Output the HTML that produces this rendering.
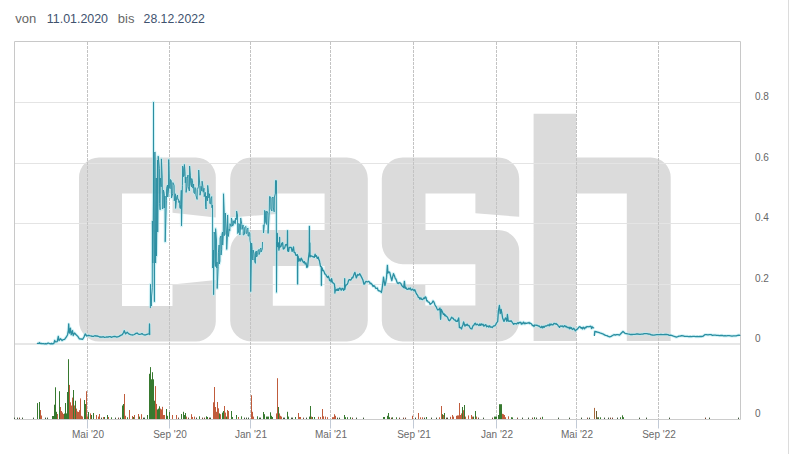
<!DOCTYPE html>
<html><head><meta charset="utf-8"><title>Chart</title>
<style>
html,body{margin:0;padding:0;background:#fff;}
body{width:789px;height:454px;overflow:hidden;font-family:"Liberation Sans",sans-serif;}
svg{display:block;font-family:"Liberation Sans",sans-serif;}
</style></head><body>
<svg width="789" height="454" viewBox="0 0 789 454">
<rect width="789" height="454" fill="#ffffff"/>
<path d="M99.0,157.5 H195.8 A20,20 0 0 1 215.8,177.5 V217.4 L172.5,212.8 V193.6 H122 V306 H172.5 V284.6 L215.8,280 V321.4 A20,20 0 0 1 195.8,341.4 H99.0 A20,20 0 0 1 79.0,321.4 V177.5 A20,20 0 0 1 99.0,157.5 Z M251.2,157.5 H346.8 A21,21 0 0 1 367.8,178.5 V320.4 A21,21 0 0 1 346.8,341.4 H251.2 A21,21 0 0 1 230.2,320.4 V251 A21,21 0 0 1 251.2,230 H324.6 V193.4 H276.8 V214 L230.2,217.5 V178.5 A21,21 0 0 1 251.2,157.5 Z M272.8,266 V305.8 H324.6 V266 Z M402.8,157.5 H498.20000000000005 A21,21 0 0 1 519.2,178.5 V216.8 L475.4,213.2 V193.5 H425.5 V230 H498.20000000000005 A21,21 0 0 1 519.2,251 V320.4 A21,21 0 0 1 498.20000000000005,341.4 H402.8 A21,21 0 0 1 381.8,320.4 V282.6 L425.3,285 V305.6 H475.4 V264.2 H402.8 A21,21 0 0 1 381.8,243.2 V178.5 A21,21 0 0 1 402.8,157.5 Z M533.6,113.8 H576.2 V157.5 H650.7 A20,20 0 0 1 670.7,177.5 V341 H626.8 V193.5 H576.2 V341 H533.6 Z" fill="#dbdbdb" fill-rule="evenodd"/>
<line x1="14.5" x2="740.5" y1="284.5" y2="284.5" stroke="#e4e4e4" stroke-width="1"/>
<line x1="14.5" x2="740.5" y1="223.5" y2="223.5" stroke="#e4e4e4" stroke-width="1"/>
<line x1="14.5" x2="740.5" y1="163.5" y2="163.5" stroke="#e4e4e4" stroke-width="1"/>
<line x1="14.5" x2="740.5" y1="102.5" y2="102.5" stroke="#e4e4e4" stroke-width="1"/>
<rect x="14.5" y="343.15" width="726.0" height="1.7" fill="#e3e3e3"/>
<line x1="87.5" x2="87.5" y1="42" y2="419.0" stroke="#c3c3c3" stroke-width="1" stroke-dasharray="3,1"/>
<line x1="87.5" x2="87.5" y1="420.0" y2="428.5" stroke="#c2cad6" stroke-width="1"/>
<line x1="169.5" x2="169.5" y1="42" y2="419.0" stroke="#c3c3c3" stroke-width="1" stroke-dasharray="3,1"/>
<line x1="169.5" x2="169.5" y1="420.0" y2="428.5" stroke="#c2cad6" stroke-width="1"/>
<line x1="250.5" x2="250.5" y1="42" y2="419.0" stroke="#c3c3c3" stroke-width="1" stroke-dasharray="3,1"/>
<line x1="250.5" x2="250.5" y1="420.0" y2="428.5" stroke="#c2cad6" stroke-width="1"/>
<line x1="330.5" x2="330.5" y1="42" y2="419.0" stroke="#c3c3c3" stroke-width="1" stroke-dasharray="3,1"/>
<line x1="330.5" x2="330.5" y1="420.0" y2="428.5" stroke="#c2cad6" stroke-width="1"/>
<line x1="413.5" x2="413.5" y1="42" y2="419.0" stroke="#c3c3c3" stroke-width="1" stroke-dasharray="3,1"/>
<line x1="413.5" x2="413.5" y1="420.0" y2="428.5" stroke="#c2cad6" stroke-width="1"/>
<line x1="496.5" x2="496.5" y1="42" y2="419.0" stroke="#c3c3c3" stroke-width="1" stroke-dasharray="3,1"/>
<line x1="496.5" x2="496.5" y1="420.0" y2="428.5" stroke="#c2cad6" stroke-width="1"/>
<line x1="576.5" x2="576.5" y1="42" y2="419.0" stroke="#c3c3c3" stroke-width="1" stroke-dasharray="3,1"/>
<line x1="576.5" x2="576.5" y1="420.0" y2="428.5" stroke="#c2cad6" stroke-width="1"/>
<line x1="658.5" x2="658.5" y1="42" y2="419.0" stroke="#c3c3c3" stroke-width="1" stroke-dasharray="3,1"/>
<line x1="658.5" x2="658.5" y1="420.0" y2="428.5" stroke="#c2cad6" stroke-width="1"/>
<path d="M14.5,419.5 V41.5 H740.5 V419.5" fill="none" stroke="#c8c8c8" stroke-width="1"/>
<line x1="14.5" x2="740.5" y1="419.5" y2="419.5" stroke="#cccccc" stroke-width="1"/>
<line x1="788.5" x2="788.5" y1="0" y2="454" stroke="#dcdcdc" stroke-width="1"/>
<rect x="37" y="403.1" width="1" height="15.9" fill="#37792f"/>
<rect x="39" y="402" width="1" height="17.0" fill="#37792f"/>
<rect x="40" y="410" width="1" height="9.0" fill="#c05c3c"/>
<rect x="41" y="415.5" width="1" height="3.5" fill="#c05c3c"/>
<rect x="52" y="416" width="1" height="3.0" fill="#37792f"/>
<rect x="53" y="416" width="1" height="3.0" fill="#37792f"/>
<rect x="54" y="404.7" width="1" height="14.3" fill="#37792f"/>
<rect x="55" y="387.3" width="1" height="31.7" fill="#37792f"/>
<rect x="56" y="411.8" width="1" height="7.2" fill="#37792f"/>
<rect x="57" y="414" width="1" height="5.0" fill="#c05c3c"/>
<rect x="59" y="391.2" width="1" height="27.8" fill="#37792f"/>
<rect x="60" y="407" width="1" height="12.0" fill="#c05c3c"/>
<rect x="61" y="411" width="1" height="8.0" fill="#c05c3c"/>
<rect x="62" y="412.5" width="1" height="6.5" fill="#c05c3c"/>
<rect x="63" y="414" width="1" height="5.0" fill="#c05c3c"/>
<rect x="64" y="413.5" width="1" height="5.5" fill="#37792f"/>
<rect x="65" y="403" width="1" height="16.0" fill="#37792f"/>
<rect x="66" y="413.4" width="1" height="5.6" fill="#37792f"/>
<rect x="67" y="392" width="1" height="27.0" fill="#37792f"/>
<rect x="68" y="359.2" width="1" height="59.8" fill="#37792f"/>
<rect x="69" y="384.9" width="1" height="34.1" fill="#c05c3c"/>
<rect x="70" y="402.3" width="1" height="16.7" fill="#c05c3c"/>
<rect x="71" y="405.5" width="1" height="13.5" fill="#c05c3c"/>
<rect x="72" y="397.6" width="1" height="21.4" fill="#c05c3c"/>
<rect x="73" y="390" width="1" height="29.0" fill="#37792f"/>
<rect x="74" y="405.5" width="1" height="13.5" fill="#c05c3c"/>
<rect x="75" y="400.7" width="1" height="18.3" fill="#37792f"/>
<rect x="76" y="408.6" width="1" height="10.4" fill="#c05c3c"/>
<rect x="77" y="411.5" width="1" height="7.5" fill="#c05c3c"/>
<rect x="78" y="412" width="1" height="7.0" fill="#c05c3c"/>
<rect x="79" y="410.2" width="1" height="8.8" fill="#c05c3c"/>
<rect x="80" y="398.4" width="1" height="20.6" fill="#c05c3c"/>
<rect x="81" y="415.8" width="1" height="3.2" fill="#c05c3c"/>
<rect x="82" y="416.5" width="1" height="2.5" fill="#c05c3c"/>
<rect x="84" y="400" width="1" height="19.0" fill="#37792f"/>
<rect x="85" y="404" width="1" height="15.0" fill="#37792f"/>
<rect x="86" y="391.2" width="1" height="27.8" fill="#c05c3c"/>
<rect x="87" y="416.5" width="1" height="2.5" fill="#c05c3c"/>
<rect x="88" y="412" width="1" height="7.0" fill="#37792f"/>
<rect x="90" y="413.4" width="1" height="5.6" fill="#c05c3c"/>
<rect x="91" y="415" width="1" height="4.0" fill="#37792f"/>
<rect x="93" y="413" width="1" height="6.0" fill="#37792f"/>
<rect x="96" y="415" width="1" height="4.0" fill="#c05c3c"/>
<rect x="98" y="416.6" width="1" height="2.4" fill="#c05c3c"/>
<rect x="99" y="414" width="1" height="5.0" fill="#c05c3c"/>
<rect x="103" y="417" width="1" height="2.0" fill="#c05c3c"/>
<rect x="104" y="417" width="1" height="2.0" fill="#37792f"/>
<rect x="107" y="415" width="1" height="4.0" fill="#37792f"/>
<rect x="108" y="417" width="1" height="2.0" fill="#c05c3c"/>
<rect x="111" y="417.3" width="1" height="1.7" fill="#37792f"/>
<rect x="122" y="405.5" width="1" height="13.5" fill="#37792f"/>
<rect x="123" y="404" width="1" height="15.0" fill="#37792f"/>
<rect x="124" y="394" width="1" height="25.0" fill="#c05c3c"/>
<rect x="125" y="415.8" width="1" height="3.2" fill="#c05c3c"/>
<rect x="127" y="417.3" width="1" height="1.7" fill="#37792f"/>
<rect x="129" y="410" width="1" height="9.0" fill="#c05c3c"/>
<rect x="132" y="416" width="1" height="3.0" fill="#c05c3c"/>
<rect x="133" y="417" width="1" height="2.0" fill="#37792f"/>
<rect x="134" y="415" width="1" height="4.0" fill="#c05c3c"/>
<rect x="138" y="414" width="1" height="5.0" fill="#c05c3c"/>
<rect x="139" y="416.6" width="1" height="2.4" fill="#37792f"/>
<rect x="141" y="414.2" width="1" height="4.8" fill="#c05c3c"/>
<rect x="147" y="415" width="1" height="4.0" fill="#37792f"/>
<rect x="149" y="373.8" width="1" height="45.2" fill="#37792f"/>
<rect x="150" y="367.1" width="1" height="51.9" fill="#37792f"/>
<rect x="151" y="379.3" width="1" height="39.7" fill="#37792f"/>
<rect x="152" y="372.2" width="1" height="46.8" fill="#37792f"/>
<rect x="153" y="379.3" width="1" height="39.7" fill="#37792f"/>
<rect x="154" y="400.7" width="1" height="18.3" fill="#37792f"/>
<rect x="155" y="386.1" width="1" height="32.9" fill="#c05c3c"/>
<rect x="156" y="403.9" width="1" height="15.1" fill="#c05c3c"/>
<rect x="157" y="409.4" width="1" height="9.6" fill="#37792f"/>
<rect x="158" y="408.6" width="1" height="10.4" fill="#37792f"/>
<rect x="159" y="406.3" width="1" height="12.7" fill="#37792f"/>
<rect x="160" y="408.6" width="1" height="10.4" fill="#c05c3c"/>
<rect x="161" y="409.4" width="1" height="9.6" fill="#c05c3c"/>
<rect x="162" y="406.8" width="1" height="12.2" fill="#c05c3c"/>
<rect x="163" y="415" width="1" height="4.0" fill="#c05c3c"/>
<rect x="164" y="415" width="1" height="4.0" fill="#c05c3c"/>
<rect x="166" y="409" width="1" height="10.0" fill="#37792f"/>
<rect x="167" y="415.8" width="1" height="3.2" fill="#37792f"/>
<rect x="169" y="412" width="1" height="7.0" fill="#37792f"/>
<rect x="172" y="415" width="1" height="4.0" fill="#c05c3c"/>
<rect x="176" y="415" width="1" height="4.0" fill="#c05c3c"/>
<rect x="181" y="414" width="1" height="5.0" fill="#37792f"/>
<rect x="183" y="411.8" width="1" height="7.2" fill="#37792f"/>
<rect x="184" y="415" width="1" height="4.0" fill="#37792f"/>
<rect x="185" y="413" width="1" height="6.0" fill="#37792f"/>
<rect x="186" y="416.6" width="1" height="2.4" fill="#c05c3c"/>
<rect x="191" y="414.2" width="1" height="4.8" fill="#c05c3c"/>
<rect x="192" y="417" width="1" height="2.0" fill="#c05c3c"/>
<rect x="194" y="416.6" width="1" height="2.4" fill="#c05c3c"/>
<rect x="199" y="416.3" width="1" height="2.7" fill="#37792f"/>
<rect x="206" y="416.3" width="1" height="2.7" fill="#37792f"/>
<rect x="207" y="417" width="1" height="2.0" fill="#37792f"/>
<rect x="213" y="402.3" width="1" height="16.7" fill="#c05c3c"/>
<rect x="214" y="387" width="1" height="32.0" fill="#c05c3c"/>
<rect x="215" y="407" width="1" height="12.0" fill="#c05c3c"/>
<rect x="216" y="411.8" width="1" height="7.2" fill="#c05c3c"/>
<rect x="217" y="402" width="1" height="17.0" fill="#c05c3c"/>
<rect x="218" y="408.3" width="1" height="10.7" fill="#c05c3c"/>
<rect x="219" y="413.4" width="1" height="5.6" fill="#37792f"/>
<rect x="220" y="414.2" width="1" height="4.8" fill="#c05c3c"/>
<rect x="222" y="412.6" width="1" height="6.4" fill="#37792f"/>
<rect x="223" y="411" width="1" height="8.0" fill="#37792f"/>
<rect x="224" y="406" width="1" height="13.0" fill="#c05c3c"/>
<rect x="225" y="412.6" width="1" height="6.4" fill="#c05c3c"/>
<rect x="226" y="416.6" width="1" height="2.4" fill="#37792f"/>
<rect x="227" y="410" width="1" height="9.0" fill="#c05c3c"/>
<rect x="228" y="411" width="1" height="8.0" fill="#c05c3c"/>
<rect x="231" y="411" width="1" height="8.0" fill="#37792f"/>
<rect x="232" y="417" width="1" height="2.0" fill="#37792f"/>
<rect x="236" y="415" width="1" height="4.0" fill="#37792f"/>
<rect x="238" y="417" width="1" height="2.0" fill="#c05c3c"/>
<rect x="241" y="416.3" width="1" height="2.7" fill="#37792f"/>
<rect x="251" y="395.2" width="1" height="23.8" fill="#c05c3c"/>
<rect x="252" y="411.8" width="1" height="7.2" fill="#c05c3c"/>
<rect x="253" y="416.6" width="1" height="2.4" fill="#c05c3c"/>
<rect x="257" y="416.3" width="1" height="2.7" fill="#37792f"/>
<rect x="263" y="412" width="1" height="7.0" fill="#37792f"/>
<rect x="264" y="414.2" width="1" height="4.8" fill="#37792f"/>
<rect x="266" y="416.6" width="1" height="2.4" fill="#37792f"/>
<rect x="267" y="416.6" width="1" height="2.4" fill="#37792f"/>
<rect x="268" y="416.6" width="1" height="2.4" fill="#37792f"/>
<rect x="270" y="412.3" width="1" height="6.7" fill="#37792f"/>
<rect x="271" y="415.8" width="1" height="3.2" fill="#37792f"/>
<rect x="272" y="417" width="1" height="2.0" fill="#37792f"/>
<rect x="276" y="413.4" width="1" height="5.6" fill="#c05c3c"/>
<rect x="277" y="378.2" width="1" height="40.8" fill="#c05c3c"/>
<rect x="278" y="407" width="1" height="12.0" fill="#37792f"/>
<rect x="279" y="413.4" width="1" height="5.6" fill="#c05c3c"/>
<rect x="280" y="415.8" width="1" height="3.2" fill="#c05c3c"/>
<rect x="281" y="416.6" width="1" height="2.4" fill="#c05c3c"/>
<rect x="287" y="411.8" width="1" height="7.2" fill="#37792f"/>
<rect x="288" y="416.6" width="1" height="2.4" fill="#37792f"/>
<rect x="295" y="417" width="1" height="2.0" fill="#37792f"/>
<rect x="298" y="413" width="1" height="6.0" fill="#c05c3c"/>
<rect x="299" y="417" width="1" height="2.0" fill="#c05c3c"/>
<rect x="300" y="417" width="1" height="2.0" fill="#c05c3c"/>
<rect x="309" y="416.6" width="1" height="2.4" fill="#37792f"/>
<rect x="310" y="406" width="1" height="13.0" fill="#37792f"/>
<rect x="311" y="416.6" width="1" height="2.4" fill="#c05c3c"/>
<rect x="312" y="417" width="1" height="2.0" fill="#37792f"/>
<rect x="314" y="417" width="1" height="2.0" fill="#37792f"/>
<rect x="318" y="416.8" width="1" height="2.2" fill="#c05c3c"/>
<rect x="320" y="417" width="1" height="2.0" fill="#c05c3c"/>
<rect x="322" y="409" width="1" height="10.0" fill="#c05c3c"/>
<rect x="323" y="416.3" width="1" height="2.7" fill="#c05c3c"/>
<rect x="325" y="416.6" width="1" height="2.4" fill="#c05c3c"/>
<rect x="327" y="417.2" width="1" height="1.8" fill="#c05c3c"/>
<rect x="332" y="417.2" width="1" height="1.8" fill="#c05c3c"/>
<rect x="333" y="417.2" width="1" height="1.8" fill="#c05c3c"/>
<rect x="334" y="414.2" width="1" height="4.8" fill="#c05c3c"/>
<rect x="335" y="415.8" width="1" height="3.2" fill="#c05c3c"/>
<rect x="344" y="415" width="1" height="4.0" fill="#37792f"/>
<rect x="345" y="417.2" width="1" height="1.8" fill="#37792f"/>
<rect x="347" y="417.2" width="1" height="1.8" fill="#37792f"/>
<rect x="350" y="417.2" width="1" height="1.8" fill="#37792f"/>
<rect x="383" y="417" width="1" height="2.0" fill="#37792f"/>
<rect x="384" y="417" width="1" height="2.0" fill="#37792f"/>
<rect x="387" y="415.8" width="1" height="3.2" fill="#37792f"/>
<rect x="388" y="413" width="1" height="6.0" fill="#37792f"/>
<rect x="389" y="417.2" width="1" height="1.8" fill="#37792f"/>
<rect x="392" y="417.3" width="1" height="1.7" fill="#37792f"/>
<rect x="396" y="417.3" width="1" height="1.7" fill="#37792f"/>
<rect x="412" y="415.8" width="1" height="3.2" fill="#c05c3c"/>
<rect x="418" y="413" width="1" height="6.0" fill="#c05c3c"/>
<rect x="420" y="417.3" width="1" height="1.7" fill="#c05c3c"/>
<rect x="422" y="417.3" width="1" height="1.7" fill="#c05c3c"/>
<rect x="426" y="417" width="1" height="2.0" fill="#37792f"/>
<rect x="439" y="417.3" width="1" height="1.7" fill="#c05c3c"/>
<rect x="441" y="406" width="1" height="13.0" fill="#c05c3c"/>
<rect x="442" y="414.2" width="1" height="4.8" fill="#37792f"/>
<rect x="443" y="415" width="1" height="4.0" fill="#c05c3c"/>
<rect x="444" y="413" width="1" height="6.0" fill="#37792f"/>
<rect x="450" y="416.8" width="1" height="2.2" fill="#c05c3c"/>
<rect x="452" y="415" width="1" height="4.0" fill="#c05c3c"/>
<rect x="453" y="416.6" width="1" height="2.4" fill="#c05c3c"/>
<rect x="456" y="415.8" width="1" height="3.2" fill="#c05c3c"/>
<rect x="457" y="415.4" width="1" height="3.6" fill="#c05c3c"/>
<rect x="458" y="415.4" width="1" height="3.6" fill="#c05c3c"/>
<rect x="459" y="403" width="1" height="16.0" fill="#c05c3c"/>
<rect x="460" y="415" width="1" height="4.0" fill="#c05c3c"/>
<rect x="461" y="413.4" width="1" height="5.6" fill="#c05c3c"/>
<rect x="462" y="407" width="1" height="12.0" fill="#37792f"/>
<rect x="463" y="410.2" width="1" height="8.8" fill="#c05c3c"/>
<rect x="464" y="405" width="1" height="14.0" fill="#37792f"/>
<rect x="465" y="416.6" width="1" height="2.4" fill="#c05c3c"/>
<rect x="468" y="415.4" width="1" height="3.6" fill="#c05c3c"/>
<rect x="471" y="415" width="1" height="4.0" fill="#c05c3c"/>
<rect x="472" y="416.6" width="1" height="2.4" fill="#c05c3c"/>
<rect x="473" y="416.6" width="1" height="2.4" fill="#37792f"/>
<rect x="475" y="411" width="1" height="8.0" fill="#37792f"/>
<rect x="476" y="416.6" width="1" height="2.4" fill="#c05c3c"/>
<rect x="494" y="416.6" width="1" height="2.4" fill="#37792f"/>
<rect x="495" y="416.6" width="1" height="2.4" fill="#37792f"/>
<rect x="496" y="416.6" width="1" height="2.4" fill="#37792f"/>
<rect x="498" y="415" width="1" height="4.0" fill="#37792f"/>
<rect x="499" y="404.2" width="1" height="14.8" fill="#37792f"/>
<rect x="500" y="404.2" width="1" height="14.8" fill="#37792f"/>
<rect x="501" y="404.2" width="1" height="14.8" fill="#37792f"/>
<rect x="502" y="413.8" width="1" height="5.2" fill="#c05c3c"/>
<rect x="503" y="414.2" width="1" height="4.8" fill="#c05c3c"/>
<rect x="504" y="415" width="1" height="4.0" fill="#c05c3c"/>
<rect x="505" y="417.2" width="1" height="1.8" fill="#c05c3c"/>
<rect x="508" y="416.3" width="1" height="2.7" fill="#c05c3c"/>
<rect x="511" y="417.2" width="1" height="1.8" fill="#37792f"/>
<rect x="512" y="417.4" width="1" height="1.6" fill="#37792f"/>
<rect x="534" y="417.2" width="1" height="1.8" fill="#37792f"/>
<rect x="542" y="416.8" width="1" height="2.2" fill="#37792f"/>
<rect x="594" y="407.9" width="1" height="11.1" fill="#a8673c"/>
<rect x="596" y="411" width="1" height="8.0" fill="#6a5a30"/>
<rect x="597" y="417.3" width="1" height="1.7" fill="#6a6a40"/>
<rect x="598" y="417.3" width="1" height="1.7" fill="#37792f"/>
<rect x="600" y="417.3" width="1" height="1.7" fill="#37792f"/>
<rect x="620" y="417.2" width="1" height="1.8" fill="#37792f"/>
<rect x="622" y="415.3" width="1" height="3.7" fill="#37792f"/>
<rect x="623" y="417.2" width="1" height="1.8" fill="#37792f"/>
<rect x="14" y="417.6" width="1" height="1.4" fill="#40583a"/>
<rect x="17" y="417.6" width="1" height="1.4" fill="#40583a"/>
<rect x="19" y="417.6" width="1" height="1.4" fill="#7a4a38"/>
<rect x="22" y="417.6" width="1" height="1.4" fill="#40583a"/>
<rect x="33" y="417.6" width="1" height="1.4" fill="#40583a"/>
<rect x="45" y="417.6" width="1" height="1.4" fill="#40583a"/>
<rect x="47" y="417.6" width="1" height="1.4" fill="#40583a"/>
<rect x="101" y="417.6" width="1" height="1.4" fill="#40583a"/>
<rect x="115" y="417.6" width="1" height="1.4" fill="#40583a"/>
<rect x="118" y="417.6" width="1" height="1.4" fill="#7a4a38"/>
<rect x="120" y="417.6" width="1" height="1.4" fill="#40583a"/>
<rect x="143" y="417.6" width="1" height="1.4" fill="#40583a"/>
<rect x="144" y="417.6" width="1" height="1.4" fill="#40583a"/>
<rect x="178" y="417.6" width="1" height="1.4" fill="#7a4a38"/>
<rect x="188" y="417.6" width="1" height="1.4" fill="#7a4a38"/>
<rect x="196" y="417.6" width="1" height="1.4" fill="#40583a"/>
<rect x="202" y="417.6" width="1" height="1.4" fill="#7a4a38"/>
<rect x="204" y="417.6" width="1" height="1.4" fill="#7a4a38"/>
<rect x="209" y="417.6" width="1" height="1.4" fill="#7a4a38"/>
<rect x="210" y="417.6" width="1" height="1.4" fill="#40583a"/>
<rect x="244" y="417.6" width="1" height="1.4" fill="#40583a"/>
<rect x="246" y="417.6" width="1" height="1.4" fill="#40583a"/>
<rect x="248" y="417.6" width="1" height="1.4" fill="#40583a"/>
<rect x="259" y="417.6" width="1" height="1.4" fill="#40583a"/>
<rect x="260" y="417.6" width="1" height="1.4" fill="#40583a"/>
<rect x="283" y="417.6" width="1" height="1.4" fill="#40583a"/>
<rect x="284" y="417.6" width="1" height="1.4" fill="#40583a"/>
<rect x="291" y="417.6" width="1" height="1.4" fill="#40583a"/>
<rect x="292" y="417.6" width="1" height="1.4" fill="#40583a"/>
<rect x="303" y="417.6" width="1" height="1.4" fill="#7a4a38"/>
<rect x="306" y="417.6" width="1" height="1.4" fill="#40583a"/>
<rect x="337" y="417.6" width="1" height="1.4" fill="#40583a"/>
<rect x="339" y="417.6" width="1" height="1.4" fill="#40583a"/>
<rect x="352" y="417.6" width="1" height="1.4" fill="#7a4a38"/>
<rect x="356" y="417.6" width="1" height="1.4" fill="#40583a"/>
<rect x="363" y="417.6" width="1" height="1.4" fill="#40583a"/>
<rect x="391" y="417.6" width="1" height="1.4" fill="#7a4a38"/>
<rect x="399" y="417.6" width="1" height="1.4" fill="#7a4a38"/>
<rect x="403" y="417.6" width="1" height="1.4" fill="#7a4a38"/>
<rect x="405" y="417.6" width="1" height="1.4" fill="#7a4a38"/>
<rect x="415" y="417.6" width="1" height="1.4" fill="#40583a"/>
<rect x="424" y="417.6" width="1" height="1.4" fill="#40583a"/>
<rect x="431" y="417.6" width="1" height="1.4" fill="#40583a"/>
<rect x="436" y="417.6" width="1" height="1.4" fill="#40583a"/>
<rect x="446" y="417.6" width="1" height="1.4" fill="#7a4a38"/>
<rect x="447" y="417.6" width="1" height="1.4" fill="#40583a"/>
<rect x="478" y="417.6" width="1" height="1.4" fill="#7a4a38"/>
<rect x="483" y="417.6" width="1" height="1.4" fill="#40583a"/>
<rect x="492" y="417.6" width="1" height="1.4" fill="#7a4a38"/>
<rect x="517" y="417.6" width="1" height="1.4" fill="#7a4a38"/>
<rect x="522" y="417.6" width="1" height="1.4" fill="#40583a"/>
<rect x="528" y="417.6" width="1" height="1.4" fill="#40583a"/>
<rect x="532" y="417.6" width="1" height="1.4" fill="#7a4a38"/>
<rect x="536" y="417.6" width="1" height="1.4" fill="#40583a"/>
<rect x="540" y="417.6" width="1" height="1.4" fill="#7a4a38"/>
<rect x="558" y="417.6" width="1" height="1.4" fill="#40583a"/>
<rect x="569" y="417.6" width="1" height="1.4" fill="#40583a"/>
<rect x="581" y="417.6" width="1" height="1.4" fill="#40583a"/>
<rect x="587" y="417.6" width="1" height="1.4" fill="#7a4a38"/>
<rect x="589" y="417.6" width="1" height="1.4" fill="#40583a"/>
<rect x="604" y="417.6" width="1" height="1.4" fill="#40583a"/>
<rect x="608" y="417.6" width="1" height="1.4" fill="#40583a"/>
<rect x="610" y="417.6" width="1" height="1.4" fill="#7a4a38"/>
<rect x="612" y="417.6" width="1" height="1.4" fill="#7a4a38"/>
<rect x="617" y="417.6" width="1" height="1.4" fill="#40583a"/>
<rect x="639" y="417.6" width="1" height="1.4" fill="#40583a"/>
<rect x="646" y="417.6" width="1" height="1.4" fill="#40583a"/>
<rect x="669" y="417.6" width="1" height="1.4" fill="#40583a"/>
<rect x="705" y="417.6" width="1" height="1.4" fill="#7a4a38"/>
<rect x="709" y="417.6" width="1" height="1.4" fill="#40583a"/>
<rect x="738" y="417.6" width="1" height="1.4" fill="#40583a"/>
<path d="M37.4,343.4 L39.2,343.4 L39.4,342.6 L39.9,343.4 L41.1,343.5 L42.2,343.6 L43.4,343.7 L44.6,343.8 L45.7,343.6 L46.9,343.8 L48.1,343.0 L49.2,343.4 L50.4,343.8 L51.6,343.5 L52.7,343.8 L53.9,343.4 L54.7,340.5 L55.6,341.8 L57.2,341.6 L58.3,336.4 L59.0,340.5 L60.5,338.8 L62.1,340.5 L63.3,339.6 L64.6,339.3 L66.2,337.2 L67.6,334.7 L68.4,330.0 L68.7,324.0 L69.1,331.0 L69.5,333.0 L70.4,328.1 L71.2,334.7 L72.5,330.6 L73.2,335.5 L74.5,333.0 L76.1,334.7 L77.8,336.4 L79.4,338.8 L81.1,339.0 L82.7,339.3 L84.0,337.0 L85.2,333.9 L86.8,336.0 L88.0,335.5 L89.3,335.5 L90.9,336.0 L92.6,336.4 L93.7,336.3 L94.8,335.7 L95.9,336.0 L97.1,336.0 L98.3,336.3 L99.6,337.0 L100.8,336.9 L102.0,337.2 L103.3,336.7 L104.5,337.4 L105.8,337.2 L106.9,336.8 L108.0,337.2 L109.1,336.7 L110.2,336.6 L111.3,337.3 L112.4,336.9 L113.7,336.5 L115.0,336.4 L116.4,337.0 L117.7,336.8 L119.0,336.4 L120.7,335.4 L122.3,334.7 L123.6,332.5 L124.2,330.6 L125.6,333.9 L127.2,332.2 L128.8,333.9 L130.5,334.7 L131.8,334.9 L133.0,335.0 L134.4,334.5 L135.7,333.4 L137.1,333.0 L138.3,334.1 L139.6,334.4 L140.8,334.2 L142.0,333.6 L143.1,334.5 L144.2,334.9 L145.3,335.0 L146.9,334.3 L148.6,333.9 L149.3,333.5 L149.5,324.0 L149.7,334.5 M276.9,242.5 L277.2,245.0 L277.3,233.4 L277.4,245.0 L277.5,246.5 L278.4,242.8 L278.9,250.2 L279.5,246.3 L279.6,246.0 L279.6,237.5 L279.7,246.3 L280.2,247.0 L281.0,246.3 L281.7,243.5 L282.6,242.6 L283.3,249.0 L283.8,248.8 L284.7,247.9 L285.5,244.9 L286.2,244.5 L287.0,245.2 L287.4,246.9 L287.5,230.6 L287.6,246.9 L287.7,251.0 L288.6,251.4 L289.2,247.3 L290.0,247.3 L290.6,247.3 L291.2,247.4 L292.1,251.4 L292.9,249.3 L293.5,246.8 L294.1,252.3 L294.9,252.3 L295.8,255.2 L296.5,255.4 L297.4,254.6 L297.5,256.3 L297.6,283.9 L297.7,256.3 L298.1,256.2 L298.8,261.2 L299.6,258.8 L300.5,261.0 L301.2,258.1 L302.0,259.5 L302.7,261.2 L303.6,262.6 L304.4,261.6 L305.1,264.0 L306.0,262.9 L306.8,267.4 L307.6,266.8 L308.5,257.9 L309.2,252.1 L309.3,254.0 L309.4,226.4 L309.5,254.0 L309.8,254.0 L309.9,243.0 L310.0,254.0 L310.1,256.9 L310.7,255.7 L311.5,256.0 L312.1,256.5 L312.8,256.5 L313.5,256.8 L314.3,257.4 L315.1,254.2 L315.7,256.3 L316.4,255.7 L317.2,258.3 L317.7,258.4 L318.3,257.1 L318.8,259.7 L319.4,260.3 L319.9,263.5 L320.6,266.6 L321.3,266.7 L321.3,268.8 L321.4,285.3 L321.5,268.8 L322.2,268.0 L322.8,270.6 L323.5,270.4 L324.3,272.2 L324.8,274.0 L325.4,274.2 L326.0,274.9 L326.9,276.7 L327.6,277.6 L328.3,276.2 L328.9,277.7 L329.6,280.5 L330.5,280.0 L331.1,282.0 L331.6,278.7 L332.3,281.8 L332.9,282.9 L333.8,283.3 L334.4,284.1 L334.8,287.5 L334.9,293.0 L335.0,287.5 L335.0,290.0 L335.7,290.7 L336.6,289.4 L337.2,290.4 L337.9,288.8 L338.5,290.4 L339.2,288.6 L339.9,288.0 L340.6,289.0 L341.2,290.2 L342.1,288.3 L342.8,288.8 L343.7,290.4 L344.3,288.4 L344.6,287.6 L344.7,278.7 L344.8,287.6 L344.8,289.3 L345.4,286.4 L346.1,285.1 L346.9,284.5 L347.4,284.1 L348.0,282.4 L348.7,280.0 L349.4,279.7 L350.7,280.0 L351.4,279.1 L352.1,277.4 L352.8,277.9 L353.9,274.6 L354.9,272.3 L355.6,275.0 L356.3,277.9 L357.7,274.4 L358.4,275.1 L359.1,274.8 L359.8,273.7 L360.9,275.9 L361.9,277.9 L362.9,280.0 L363.9,284.2 L364.6,283.9 L365.3,282.2 L366.0,281.4 L366.7,281.6 L367.4,281.9 L368.1,281.7 L368.8,281.4 L369.5,282.1 L370.2,283.7 L370.9,283.2 L371.6,284.0 L372.3,284.9 L373.1,286.4 L374.0,285.6 L374.8,286.5 L375.7,288.3 L376.5,288.3 L377.3,288.0 L378.1,290.4 L378.9,290.8 L379.8,291.0 L380.6,291.3 L381.4,292.5 L382.1,288.6 L382.8,283.5 L383.5,277.2 L384.9,285.5 L385.7,282.6 L386.5,277.9 L387.4,265.3 L387.9,273.0 L388.8,271.9 L389.7,272.3 L390.4,275.1 L391.1,278.0 L391.8,280.7 L392.6,277.2 L393.5,273.7 L394.4,275.8 L395.3,278.6 L396.0,279.1 L396.7,281.2 L397.4,283.0 L398.1,283.5 L399.0,282.6 L400.0,282.9 L400.9,283.5 L401.6,285.2 L402.3,286.2 L403.0,286.9 L403.7,287.6 L404.4,281.4 L405.1,288.3 L405.8,287.3 L406.5,288.8 L407.2,289.4 L407.9,289.4 L408.6,288.3 L409.5,289.1 L410.3,288.0 L411.1,290.1 L412.0,289.7 L412.7,289.1 L413.4,290.0 L414.1,290.7 L414.8,289.7 L415.9,292.6 L416.9,294.6 L417.6,295.2 L418.3,297.4 L419.1,297.4 L420.0,299.2 L420.8,297.9 L421.7,299.3 L422.5,299.5 L423.2,298.9 L423.9,297.9 L424.6,298.5 L425.3,296.8 L426.0,297.4 L426.7,300.9 L427.4,300.7 L428.1,302.0 L428.8,302.1 L429.5,302.7 L430.2,304.4 L430.9,303.7 L431.6,303.2 L432.3,302.6 L433.0,300.9 L434.0,302.1 L435.0,305.0 L435.7,306.1 L436.4,307.1 L437.1,309.0 L437.8,310.0 L438.5,309.3 L439.3,309.6 L440.0,308.0 L440.6,319.3 L441.3,309.5 L442.4,311.7 L443.4,314.4 L444.1,313.8 L444.8,315.7 L445.5,314.9 L446.2,316.4 L446.9,316.5 L447.8,317.9 L448.7,320.2 L449.6,320.7 L450.6,319.1 L451.7,317.2 L452.4,318.2 L453.1,318.1 L453.8,319.4 L454.5,320.0 L455.2,319.8 L455.9,321.3 L456.6,321.1 L457.3,321.4 L458.7,317.9 L459.0,322.0 L459.4,327.6 L460.1,327.3 L460.8,327.9 L461.5,329.0 L462.2,326.4 L462.9,324.9 L463.6,322.0 L465.0,326.2 L465.7,324.8 L466.4,325.3 L467.1,324.1 L468.0,325.6 L469.0,325.5 L469.9,327.6 L470.9,328.7 L471.9,329.0 L472.6,326.7 L473.3,325.4 L474.0,325.1 L474.7,323.5 L475.4,323.2 L476.1,324.9 L476.8,324.3 L477.5,324.2 L478.2,324.9 L479.0,325.6 L479.9,323.9 L480.7,325.4 L481.6,323.9 L482.4,324.9 L483.1,324.3 L483.8,326.2 L484.5,325.7 L485.2,324.8 L485.9,324.7 L486.6,326.8 L487.3,326.2 L488.0,326.0 L488.8,327.0 L489.7,325.8 L490.5,327.2 L491.4,327.0 L492.2,327.6 L493.1,326.3 L493.9,325.9 L494.8,325.8 L495.6,324.9 L496.6,322.8 L497.7,321.4 L498.4,310.9 L499.4,305.3 L500.2,313.7 L501.2,309.5 L501.9,313.4 L502.6,317.9 L504.0,321.4 L505.4,317.9 L506.1,318.9 L506.8,321.4 L507.4,314.4 L508.2,320.7 L508.9,321.4 L509.6,321.0 L510.3,321.4 L511.0,320.7 L512.0,322.0 L513.0,323.5 L513.7,324.3 L514.4,323.5 L515.1,323.7 L515.8,323.7 L516.5,324.0 L517.2,323.3 L517.9,322.6 L518.6,323.5 L519.3,322.4 L520.0,322.7 L520.7,322.3 L521.4,324.2 L522.1,323.2 L522.8,323.8 L523.5,322.1 L524.2,323.0 L524.9,323.9 L525.6,323.0 L526.4,323.4 L527.3,323.0 L528.1,323.2 L529.0,322.5 L529.8,323.5 L530.5,323.2 L531.2,323.7 L531.9,324.7 L532.6,325.5 L533.3,325.3 L534.0,326.5 L534.7,324.9 L535.4,325.2 L536.1,325.3 L536.8,325.1 L537.5,325.5 L538.2,326.0 L539.1,326.0 L540.1,327.0 L541.0,327.6 L541.8,326.3 L542.6,327.9 L543.4,326.4 L544.2,327.3 L545.0,326.0 L545.9,326.2 L546.7,325.9 L547.5,325.2 L548.4,325.0 L549.2,325.9 L549.9,323.9 L550.7,325.0 L551.5,324.1 L552.2,324.8 L553.0,324.8 L553.8,323.5 L554.5,323.5 L555.3,324.0 L556.0,323.4 L556.7,324.4 L557.4,324.5 L558.1,325.7 L558.8,326.4 L559.5,327.4 L560.2,326.1 L560.9,326.0 L561.6,326.3 L562.3,325.9 L563.0,326.9 L563.7,326.9 L564.4,325.7 L565.1,325.8 L565.8,326.8 L566.5,326.4 L567.2,327.7 L567.9,327.4 L568.6,327.3 L569.3,328.8 L570.0,327.1 L570.7,328.5 L571.5,327.7 L572.3,329.5 L573.1,328.9 L573.8,328.3 L574.6,329.6 L575.4,330.8 L576.2,329.9 L577.0,329.4 L577.9,328.5 L578.7,327.3 L579.6,326.7 L580.4,327.1 L581.1,328.2 L581.8,327.6 L582.5,328.9 L583.2,327.2 L583.9,327.9 L584.6,328.7 L585.3,327.3 L586.0,327.7 L586.7,326.6 L587.4,326.6 L588.1,326.8 L588.8,326.7 L589.5,326.6 L590.2,326.2 L590.9,326.3 L591.6,328.5 L592.3,326.8 L593.0,327.7 L593.7,327.8 M594.4,335.4 L594.8,331.5 L597.2,332.0 L598.6,332.4 L599.9,332.9 L601.3,333.3 L602.7,333.8 L604.1,334.6 L605.5,335.4 L606.9,335.6 L608.3,336.4 L609.7,336.8 L611.1,336.4 L612.5,335.5 L613.9,334.7 L615.3,335.0 L616.7,334.7 L618.1,334.7 L619.5,335.1 L621.2,333.3 L623.0,331.5 L625.0,333.3 L626.4,333.6 L627.8,333.9 L629.2,334.1 L630.6,334.5 L632.0,334.5 L633.4,334.4 L634.8,334.4 L636.2,334.0 L637.6,334.0 L640.0,334.3 L641.4,334.1 L642.8,334.1 L644.2,333.6 L645.6,333.6 L647.0,333.6 L648.4,334.0 L649.8,334.1 L651.2,334.8 L652.6,335.0 L654.0,335.1 L655.4,334.9 L656.8,334.7 L658.2,334.6 L659.6,334.7 L660.9,334.5 L662.3,334.7 L663.7,334.7 L665.1,334.4 L666.5,334.5 L667.9,334.6 L669.3,335.3 L670.7,335.2 L672.1,335.6 L673.5,336.1 L674.9,336.5 L676.3,337.2 L677.7,336.7 L679.0,336.2 L680.4,336.0 L681.8,335.7 L683.2,335.8 L684.6,336.3 L686.0,336.4 L687.4,336.4 L688.8,336.6 L690.2,336.5 L691.6,336.6 L693.0,336.4 L694.4,336.4 L695.7,336.6 L697.1,336.5 L698.5,336.7 L699.9,336.5 L701.3,336.5 L702.7,336.4 L704.8,334.7 L706.3,334.6 L707.9,334.9 L709.5,334.6 L711.0,334.7 L712.5,335.4 L713.9,335.2 L715.3,335.2 L716.7,335.3 L718.1,335.4 L719.4,335.7 L720.8,335.5 L722.2,335.4 L723.6,335.8 L725.0,335.7 L726.4,335.8 L727.8,335.6 L729.2,335.7 L730.6,335.8 L732.0,336.1 L733.4,335.8 L734.8,335.9 L736.2,335.8 L737.6,335.4 L739.0,335.1 L739.8,335.3 M150.4,307.7 L150.5,284.3 L150.9,300.0 L151.3,306.0 L151.6,296.0 L152.0,292.0 L152.3,287.8 L152.4,221.0 L152.8,263.0 L153.4,200.0 L153.5,102.0 L153.6,200.0 L154.4,301.7 L154.9,152.0 L155.6,263.0 L156.3,178.0 L156.5,256.0 L157.5,160.0 L157.7,232.0 L158.0,200.0 L158.2,156.2 L159.4,168.7 L159.6,203.5 L160.1,209.8 L160.3,178.0 L161.2,186.8 L161.4,158.9 L162.2,177.0 L162.4,209.0 L163.2,208.0 L163.4,190.0 L164.3,193.8 L164.5,208.0 L165.0,196.0 L165.2,241.8 L166.4,200.8 L166.6,188.2 L167.5,185.0 L167.7,197.0 L168.5,190.0 L168.7,159.6 L169.2,174.0 L169.4,187.0 L170.2,188.7 L170.5,179.5 L171.3,181.0 L171.5,198.0 L172.7,193.8 L172.9,182.6 L174.1,185.4 L174.3,200.8 L175.4,193.8 L175.6,208.4 L176.4,200.6 L176.7,196.7 L177.5,195.0 L177.7,199.4 L178.5,199.2 L178.8,202.5 L179.6,200.8 L179.8,207.7 L180.4,208.6 L180.7,204.2 L181.3,190.3 L181.5,225.8 L182.4,185.4 L182.6,166.0 L183.3,168.1 L183.5,176.7 L184.2,175.7 L184.4,164.5 L185.0,171.9 L185.3,182.8 L185.9,177.0 L186.1,192.4 L186.9,186.8 L187.2,178.7 L188.0,175.0 L188.2,186.8 L189.4,191.0 L189.6,166.0 L190.4,175.1 L190.7,183.8 L191.5,186.8 L191.7,178.5 L192.5,180.7 L192.8,188.1 L193.6,184.0 L193.8,192.4 L194.6,193.6 L194.9,187.5 L195.7,188.2 L195.9,195.2 L197.1,199.4 L197.3,189.6 L198.5,186.8 L198.7,170.0 L199.8,185.4 L200.0,195.2 L200.8,190.8 L201.1,186.3 L201.9,191.0 L202.1,181.2 L202.9,186.6 L203.2,192.2 L204.0,188.2 L204.2,196.6 L205.4,192.4 L205.6,206.3 L206.1,209.0 L206.3,196.0 L207.5,200.8 L207.7,185.4 L208.5,192.3 L208.8,197.9 L209.6,193.8 L209.8,203.5 L210.6,203.9 L210.9,198.4 L211.7,196.6 L211.9,207.7 L212.5,205.0 L212.7,268.0 L213.4,250.0 L213.6,294.7 L213.9,258.5 L214.1,232.0 L214.8,234.0 L215.0,262.0 L215.4,266.5 L215.6,228.7 L216.5,240.0 L216.7,268.0 L217.0,262.0 L217.2,288.5 L218.2,266.5 L218.4,252.8 L219.1,245.0 L219.3,264.0 L219.9,261.0 L220.1,238.0 L220.9,236.0 L221.1,255.0 L221.7,249.4 L221.9,234.5 L222.5,232.0 L222.7,245.0 L223.3,235.0 L223.5,193.8 L224.2,211.0 L224.4,235.6 L225.1,234.0 L225.3,213.0 L226.5,232.0 L226.7,249.4 L227.4,236.8 L227.6,215.0 L228.1,231.0 L228.3,236.5 L228.9,232.4 L229.2,229.1 L229.8,230.7 L230.0,223.7 L231.2,226.5 L231.4,218.0 L232.2,220.6 L232.5,226.1 L233.3,225.0 L233.5,221.0 L234.3,220.3 L234.6,223.3 L235.4,223.7 L235.6,218.0 L236.4,219.5 L236.6,211.0 L237.5,215.0 L237.7,233.5 L238.5,232.3 L238.8,223.4 L239.6,225.0 L239.8,235.0 L240.5,228.0 L240.7,218.0 L241.8,224.4 L242.0,229.4 L243.1,225.0 L243.3,235.0 L244.5,234.2 L244.7,227.3 L245.9,226.5 L246.1,233.5 L246.9,233.2 L247.1,229.7 L247.9,228.0 L248.1,236.0 L248.8,236.1 L249.1,232.3 L249.8,233.0 L250.0,240.4 L250.5,243.0 L250.7,291.6 L251.4,258.0 L251.6,243.0 L252.1,249.4 L252.4,258.4 L252.9,260.0 L253.1,250.0 L254.1,253.9 L254.4,260.4 L255.4,263.3 L255.6,252.0 L256.4,251.0 L256.6,257.0 L257.6,254.7 L257.9,250.9 L258.9,249.5 L259.1,254.5 L259.9,252.1 L260.1,249.4 L260.9,248.0 L261.1,252.0 L262.3,249.0 L262.5,242.4 M263.3,225.0 L263.5,233.0 L264.4,224.4 L264.6,210.4 L265.4,212.0 L265.6,222.0 L266.5,224.4 L266.7,211.0 L267.9,213.0 L268.1,233.4 L269.3,211.8 L269.5,196.5 L270.7,197.0 L270.9,209.0 L271.9,211.0 L272.1,198.0 L273.1,197.0 L273.3,208.0 L274.2,211.8 L274.4,197.0 L275.3,193.7 L275.5,180.5 L275.9,180.8 L276.1,193.7 L276.3,180.5 L276.5,292.3 L276.9,242.5" fill="none" stroke="#b9ecf3" stroke-opacity="0.6" stroke-width="3.2" stroke-linejoin="round"/><path d="M150.4,307.7 L150.5,284.3 L150.9,300.0 L151.3,306.0 L151.6,296.0 L152.0,292.0 L152.3,287.8 L152.4,221.0 L152.8,263.0 L153.4,200.0 L153.5,102.0 L153.6,200.0 L154.4,301.7 L154.9,152.0 L155.6,263.0 L156.3,178.0 L156.5,256.0 L157.5,160.0 L157.7,232.0 L158.0,200.0 L158.2,156.2 L159.4,168.7 L159.6,203.5 L160.1,209.8 L160.3,178.0 L161.2,186.8 L161.4,158.9 L162.2,177.0 L162.4,209.0 L163.2,208.0 L163.4,190.0 L164.3,193.8 L164.5,208.0 L165.0,196.0 L165.2,241.8 L166.4,200.8 L166.6,188.2 L167.5,185.0 L167.7,197.0 L168.5,190.0 L168.7,159.6 L169.2,174.0 L169.4,187.0 L170.2,188.7 L170.5,179.5 L171.3,181.0 L171.5,198.0 L172.7,193.8 L172.9,182.6 L174.1,185.4 L174.3,200.8 L175.4,193.8 L175.6,208.4 L176.4,200.6 L176.7,196.7 L177.5,195.0 L177.7,199.4 L178.5,199.2 L178.8,202.5 L179.6,200.8 L179.8,207.7 L180.4,208.6 L180.7,204.2 L181.3,190.3 L181.5,225.8 L182.4,185.4 L182.6,166.0 L183.3,168.1 L183.5,176.7 L184.2,175.7 L184.4,164.5 L185.0,171.9 L185.3,182.8 L185.9,177.0 L186.1,192.4 L186.9,186.8 L187.2,178.7 L188.0,175.0 L188.2,186.8 L189.4,191.0 L189.6,166.0 L190.4,175.1 L190.7,183.8 L191.5,186.8 L191.7,178.5 L192.5,180.7 L192.8,188.1 L193.6,184.0 L193.8,192.4 L194.6,193.6 L194.9,187.5 L195.7,188.2 L195.9,195.2 L197.1,199.4 L197.3,189.6 L198.5,186.8 L198.7,170.0 L199.8,185.4 L200.0,195.2 L200.8,190.8 L201.1,186.3 L201.9,191.0 L202.1,181.2 L202.9,186.6 L203.2,192.2 L204.0,188.2 L204.2,196.6 L205.4,192.4 L205.6,206.3 L206.1,209.0 L206.3,196.0 L207.5,200.8 L207.7,185.4 L208.5,192.3 L208.8,197.9 L209.6,193.8 L209.8,203.5 L210.6,203.9 L210.9,198.4 L211.7,196.6 L211.9,207.7 L212.5,205.0 L212.7,268.0 L213.4,250.0 L213.6,294.7 L213.9,258.5 L214.1,232.0 L214.8,234.0 L215.0,262.0 L215.4,266.5 L215.6,228.7 L216.5,240.0 L216.7,268.0 L217.0,262.0 L217.2,288.5 L218.2,266.5 L218.4,252.8 L219.1,245.0 L219.3,264.0 L219.9,261.0 L220.1,238.0 L220.9,236.0 L221.1,255.0 L221.7,249.4 L221.9,234.5 L222.5,232.0 L222.7,245.0 L223.3,235.0 L223.5,193.8 L224.2,211.0 L224.4,235.6 L225.1,234.0 L225.3,213.0 L226.5,232.0 L226.7,249.4 L227.4,236.8 L227.6,215.0 L228.1,231.0 L228.3,236.5 L228.9,232.4 L229.2,229.1 L229.8,230.7 L230.0,223.7 L231.2,226.5 L231.4,218.0 L232.2,220.6 L232.5,226.1 L233.3,225.0 L233.5,221.0 L234.3,220.3 L234.6,223.3 L235.4,223.7 L235.6,218.0 L236.4,219.5 L236.6,211.0 L237.5,215.0 L237.7,233.5 L238.5,232.3 L238.8,223.4 L239.6,225.0 L239.8,235.0 L240.5,228.0 L240.7,218.0 L241.8,224.4 L242.0,229.4 L243.1,225.0 L243.3,235.0 L244.5,234.2 L244.7,227.3 L245.9,226.5 L246.1,233.5 L246.9,233.2 L247.1,229.7 L247.9,228.0 L248.1,236.0 L248.8,236.1 L249.1,232.3 L249.8,233.0 L250.0,240.4 L250.5,243.0 L250.7,291.6 L251.4,258.0 L251.6,243.0 L252.1,249.4 L252.4,258.4 L252.9,260.0 L253.1,250.0 L254.1,253.9 L254.4,260.4 L255.4,263.3 L255.6,252.0 L256.4,251.0 L256.6,257.0 L257.6,254.7 L257.9,250.9 L258.9,249.5 L259.1,254.5 L259.9,252.1 L260.1,249.4 L260.9,248.0 L261.1,252.0 L262.3,249.0 L262.5,242.4 M263.3,225.0 L263.5,233.0 L264.4,224.4 L264.6,210.4 L265.4,212.0 L265.6,222.0 L266.5,224.4 L266.7,211.0 L267.9,213.0 L268.1,233.4 L269.3,211.8 L269.5,196.5 L270.7,197.0 L270.9,209.0 L271.9,211.0 L272.1,198.0 L273.1,197.0 L273.3,208.0 L274.2,211.8 L274.4,197.0 L275.3,193.7 L275.5,180.5 L275.9,180.8 L276.1,193.7 L276.3,180.5 L276.5,292.3 L276.9,242.5" fill="none" stroke="#2b8ea1" stroke-width="0.95" stroke-linejoin="round" stroke-linecap="round"/><path d="M37.4,343.4 L39.2,343.4 L39.4,342.6 L39.9,343.4 L41.1,343.5 L42.2,343.6 L43.4,343.7 L44.6,343.8 L45.7,343.6 L46.9,343.8 L48.1,343.0 L49.2,343.4 L50.4,343.8 L51.6,343.5 L52.7,343.8 L53.9,343.4 L54.7,340.5 L55.6,341.8 L57.2,341.6 L58.3,336.4 L59.0,340.5 L60.5,338.8 L62.1,340.5 L63.3,339.6 L64.6,339.3 L66.2,337.2 L67.6,334.7 L68.4,330.0 L68.7,324.0 L69.1,331.0 L69.5,333.0 L70.4,328.1 L71.2,334.7 L72.5,330.6 L73.2,335.5 L74.5,333.0 L76.1,334.7 L77.8,336.4 L79.4,338.8 L81.1,339.0 L82.7,339.3 L84.0,337.0 L85.2,333.9 L86.8,336.0 L88.0,335.5 L89.3,335.5 L90.9,336.0 L92.6,336.4 L93.7,336.3 L94.8,335.7 L95.9,336.0 L97.1,336.0 L98.3,336.3 L99.6,337.0 L100.8,336.9 L102.0,337.2 L103.3,336.7 L104.5,337.4 L105.8,337.2 L106.9,336.8 L108.0,337.2 L109.1,336.7 L110.2,336.6 L111.3,337.3 L112.4,336.9 L113.7,336.5 L115.0,336.4 L116.4,337.0 L117.7,336.8 L119.0,336.4 L120.7,335.4 L122.3,334.7 L123.6,332.5 L124.2,330.6 L125.6,333.9 L127.2,332.2 L128.8,333.9 L130.5,334.7 L131.8,334.9 L133.0,335.0 L134.4,334.5 L135.7,333.4 L137.1,333.0 L138.3,334.1 L139.6,334.4 L140.8,334.2 L142.0,333.6 L143.1,334.5 L144.2,334.9 L145.3,335.0 L146.9,334.3 L148.6,333.9 L149.3,333.5 L149.5,324.0 L149.7,334.5 M276.9,242.5 L277.2,245.0 L277.3,233.4 L277.4,245.0 L277.5,246.5 L278.4,242.8 L278.9,250.2 L279.5,246.3 L279.6,246.0 L279.6,237.5 L279.7,246.3 L280.2,247.0 L281.0,246.3 L281.7,243.5 L282.6,242.6 L283.3,249.0 L283.8,248.8 L284.7,247.9 L285.5,244.9 L286.2,244.5 L287.0,245.2 L287.4,246.9 L287.5,230.6 L287.6,246.9 L287.7,251.0 L288.6,251.4 L289.2,247.3 L290.0,247.3 L290.6,247.3 L291.2,247.4 L292.1,251.4 L292.9,249.3 L293.5,246.8 L294.1,252.3 L294.9,252.3 L295.8,255.2 L296.5,255.4 L297.4,254.6 L297.5,256.3 L297.6,283.9 L297.7,256.3 L298.1,256.2 L298.8,261.2 L299.6,258.8 L300.5,261.0 L301.2,258.1 L302.0,259.5 L302.7,261.2 L303.6,262.6 L304.4,261.6 L305.1,264.0 L306.0,262.9 L306.8,267.4 L307.6,266.8 L308.5,257.9 L309.2,252.1 L309.3,254.0 L309.4,226.4 L309.5,254.0 L309.8,254.0 L309.9,243.0 L310.0,254.0 L310.1,256.9 L310.7,255.7 L311.5,256.0 L312.1,256.5 L312.8,256.5 L313.5,256.8 L314.3,257.4 L315.1,254.2 L315.7,256.3 L316.4,255.7 L317.2,258.3 L317.7,258.4 L318.3,257.1 L318.8,259.7 L319.4,260.3 L319.9,263.5 L320.6,266.6 L321.3,266.7 L321.3,268.8 L321.4,285.3 L321.5,268.8 L322.2,268.0 L322.8,270.6 L323.5,270.4 L324.3,272.2 L324.8,274.0 L325.4,274.2 L326.0,274.9 L326.9,276.7 L327.6,277.6 L328.3,276.2 L328.9,277.7 L329.6,280.5 L330.5,280.0 L331.1,282.0 L331.6,278.7 L332.3,281.8 L332.9,282.9 L333.8,283.3 L334.4,284.1 L334.8,287.5 L334.9,293.0 L335.0,287.5 L335.0,290.0 L335.7,290.7 L336.6,289.4 L337.2,290.4 L337.9,288.8 L338.5,290.4 L339.2,288.6 L339.9,288.0 L340.6,289.0 L341.2,290.2 L342.1,288.3 L342.8,288.8 L343.7,290.4 L344.3,288.4 L344.6,287.6 L344.7,278.7 L344.8,287.6 L344.8,289.3 L345.4,286.4 L346.1,285.1 L346.9,284.5 L347.4,284.1 L348.0,282.4 L348.7,280.0 L349.4,279.7 L350.7,280.0 L351.4,279.1 L352.1,277.4 L352.8,277.9 L353.9,274.6 L354.9,272.3 L355.6,275.0 L356.3,277.9 L357.7,274.4 L358.4,275.1 L359.1,274.8 L359.8,273.7 L360.9,275.9 L361.9,277.9 L362.9,280.0 L363.9,284.2 L364.6,283.9 L365.3,282.2 L366.0,281.4 L366.7,281.6 L367.4,281.9 L368.1,281.7 L368.8,281.4 L369.5,282.1 L370.2,283.7 L370.9,283.2 L371.6,284.0 L372.3,284.9 L373.1,286.4 L374.0,285.6 L374.8,286.5 L375.7,288.3 L376.5,288.3 L377.3,288.0 L378.1,290.4 L378.9,290.8 L379.8,291.0 L380.6,291.3 L381.4,292.5 L382.1,288.6 L382.8,283.5 L383.5,277.2 L384.9,285.5 L385.7,282.6 L386.5,277.9 L387.4,265.3 L387.9,273.0 L388.8,271.9 L389.7,272.3 L390.4,275.1 L391.1,278.0 L391.8,280.7 L392.6,277.2 L393.5,273.7 L394.4,275.8 L395.3,278.6 L396.0,279.1 L396.7,281.2 L397.4,283.0 L398.1,283.5 L399.0,282.6 L400.0,282.9 L400.9,283.5 L401.6,285.2 L402.3,286.2 L403.0,286.9 L403.7,287.6 L404.4,281.4 L405.1,288.3 L405.8,287.3 L406.5,288.8 L407.2,289.4 L407.9,289.4 L408.6,288.3 L409.5,289.1 L410.3,288.0 L411.1,290.1 L412.0,289.7 L412.7,289.1 L413.4,290.0 L414.1,290.7 L414.8,289.7 L415.9,292.6 L416.9,294.6 L417.6,295.2 L418.3,297.4 L419.1,297.4 L420.0,299.2 L420.8,297.9 L421.7,299.3 L422.5,299.5 L423.2,298.9 L423.9,297.9 L424.6,298.5 L425.3,296.8 L426.0,297.4 L426.7,300.9 L427.4,300.7 L428.1,302.0 L428.8,302.1 L429.5,302.7 L430.2,304.4 L430.9,303.7 L431.6,303.2 L432.3,302.6 L433.0,300.9 L434.0,302.1 L435.0,305.0 L435.7,306.1 L436.4,307.1 L437.1,309.0 L437.8,310.0 L438.5,309.3 L439.3,309.6 L440.0,308.0 L440.6,319.3 L441.3,309.5 L442.4,311.7 L443.4,314.4 L444.1,313.8 L444.8,315.7 L445.5,314.9 L446.2,316.4 L446.9,316.5 L447.8,317.9 L448.7,320.2 L449.6,320.7 L450.6,319.1 L451.7,317.2 L452.4,318.2 L453.1,318.1 L453.8,319.4 L454.5,320.0 L455.2,319.8 L455.9,321.3 L456.6,321.1 L457.3,321.4 L458.7,317.9 L459.0,322.0 L459.4,327.6 L460.1,327.3 L460.8,327.9 L461.5,329.0 L462.2,326.4 L462.9,324.9 L463.6,322.0 L465.0,326.2 L465.7,324.8 L466.4,325.3 L467.1,324.1 L468.0,325.6 L469.0,325.5 L469.9,327.6 L470.9,328.7 L471.9,329.0 L472.6,326.7 L473.3,325.4 L474.0,325.1 L474.7,323.5 L475.4,323.2 L476.1,324.9 L476.8,324.3 L477.5,324.2 L478.2,324.9 L479.0,325.6 L479.9,323.9 L480.7,325.4 L481.6,323.9 L482.4,324.9 L483.1,324.3 L483.8,326.2 L484.5,325.7 L485.2,324.8 L485.9,324.7 L486.6,326.8 L487.3,326.2 L488.0,326.0 L488.8,327.0 L489.7,325.8 L490.5,327.2 L491.4,327.0 L492.2,327.6 L493.1,326.3 L493.9,325.9 L494.8,325.8 L495.6,324.9 L496.6,322.8 L497.7,321.4 L498.4,310.9 L499.4,305.3 L500.2,313.7 L501.2,309.5 L501.9,313.4 L502.6,317.9 L504.0,321.4 L505.4,317.9 L506.1,318.9 L506.8,321.4 L507.4,314.4 L508.2,320.7 L508.9,321.4 L509.6,321.0 L510.3,321.4 L511.0,320.7 L512.0,322.0 L513.0,323.5 L513.7,324.3 L514.4,323.5 L515.1,323.7 L515.8,323.7 L516.5,324.0 L517.2,323.3 L517.9,322.6 L518.6,323.5 L519.3,322.4 L520.0,322.7 L520.7,322.3 L521.4,324.2 L522.1,323.2 L522.8,323.8 L523.5,322.1 L524.2,323.0 L524.9,323.9 L525.6,323.0 L526.4,323.4 L527.3,323.0 L528.1,323.2 L529.0,322.5 L529.8,323.5 L530.5,323.2 L531.2,323.7 L531.9,324.7 L532.6,325.5 L533.3,325.3 L534.0,326.5 L534.7,324.9 L535.4,325.2 L536.1,325.3 L536.8,325.1 L537.5,325.5 L538.2,326.0 L539.1,326.0 L540.1,327.0 L541.0,327.6 L541.8,326.3 L542.6,327.9 L543.4,326.4 L544.2,327.3 L545.0,326.0 L545.9,326.2 L546.7,325.9 L547.5,325.2 L548.4,325.0 L549.2,325.9 L549.9,323.9 L550.7,325.0 L551.5,324.1 L552.2,324.8 L553.0,324.8 L553.8,323.5 L554.5,323.5 L555.3,324.0 L556.0,323.4 L556.7,324.4 L557.4,324.5 L558.1,325.7 L558.8,326.4 L559.5,327.4 L560.2,326.1 L560.9,326.0 L561.6,326.3 L562.3,325.9 L563.0,326.9 L563.7,326.9 L564.4,325.7 L565.1,325.8 L565.8,326.8 L566.5,326.4 L567.2,327.7 L567.9,327.4 L568.6,327.3 L569.3,328.8 L570.0,327.1 L570.7,328.5 L571.5,327.7 L572.3,329.5 L573.1,328.9 L573.8,328.3 L574.6,329.6 L575.4,330.8 L576.2,329.9 L577.0,329.4 L577.9,328.5 L578.7,327.3 L579.6,326.7 L580.4,327.1 L581.1,328.2 L581.8,327.6 L582.5,328.9 L583.2,327.2 L583.9,327.9 L584.6,328.7 L585.3,327.3 L586.0,327.7 L586.7,326.6 L587.4,326.6 L588.1,326.8 L588.8,326.7 L589.5,326.6 L590.2,326.2 L590.9,326.3 L591.6,328.5 L592.3,326.8 L593.0,327.7 L593.7,327.8 M594.4,335.4 L594.8,331.5 L597.2,332.0 L598.6,332.4 L599.9,332.9 L601.3,333.3 L602.7,333.8 L604.1,334.6 L605.5,335.4 L606.9,335.6 L608.3,336.4 L609.7,336.8 L611.1,336.4 L612.5,335.5 L613.9,334.7 L615.3,335.0 L616.7,334.7 L618.1,334.7 L619.5,335.1 L621.2,333.3 L623.0,331.5 L625.0,333.3 L626.4,333.6 L627.8,333.9 L629.2,334.1 L630.6,334.5 L632.0,334.5 L633.4,334.4 L634.8,334.4 L636.2,334.0 L637.6,334.0 L640.0,334.3 L641.4,334.1 L642.8,334.1 L644.2,333.6 L645.6,333.6 L647.0,333.6 L648.4,334.0 L649.8,334.1 L651.2,334.8 L652.6,335.0 L654.0,335.1 L655.4,334.9 L656.8,334.7 L658.2,334.6 L659.6,334.7 L660.9,334.5 L662.3,334.7 L663.7,334.7 L665.1,334.4 L666.5,334.5 L667.9,334.6 L669.3,335.3 L670.7,335.2 L672.1,335.6 L673.5,336.1 L674.9,336.5 L676.3,337.2 L677.7,336.7 L679.0,336.2 L680.4,336.0 L681.8,335.7 L683.2,335.8 L684.6,336.3 L686.0,336.4 L687.4,336.4 L688.8,336.6 L690.2,336.5 L691.6,336.6 L693.0,336.4 L694.4,336.4 L695.7,336.6 L697.1,336.5 L698.5,336.7 L699.9,336.5 L701.3,336.5 L702.7,336.4 L704.8,334.7 L706.3,334.6 L707.9,334.9 L709.5,334.6 L711.0,334.7 L712.5,335.4 L713.9,335.2 L715.3,335.2 L716.7,335.3 L718.1,335.4 L719.4,335.7 L720.8,335.5 L722.2,335.4 L723.6,335.8 L725.0,335.7 L726.4,335.8 L727.8,335.6 L729.2,335.7 L730.6,335.8 L732.0,336.1 L733.4,335.8 L734.8,335.9 L736.2,335.8 L737.6,335.4 L739.0,335.1 L739.8,335.3" fill="none" stroke="#2b8ea1" stroke-width="1.3" stroke-linejoin="round" stroke-linecap="round"/>
<text x="15.2" y="22.5" font-size="13" fill="#666666" text-anchor="start" textLength="21" lengthAdjust="spacingAndGlyphs">von</text>
<text x="46.8" y="22.5" font-size="12.5" fill="#40526e" text-anchor="start" textLength="61.2" lengthAdjust="spacingAndGlyphs">11.01.2020</text>
<text x="117.8" y="22.5" font-size="13" fill="#666666" text-anchor="start" textLength="16.6" lengthAdjust="spacingAndGlyphs">bis</text>
<text x="143.6" y="22.5" font-size="12.5" fill="#40526e" text-anchor="start" textLength="61.2" lengthAdjust="spacingAndGlyphs">28.12.2022</text>
<text x="88.0" y="437.7" font-size="10" fill="#6a6a6a" text-anchor="middle">Mai '20</text>
<text x="170.0" y="437.7" font-size="10" fill="#6a6a6a" text-anchor="middle">Sep '20</text>
<text x="251.0" y="437.7" font-size="10" fill="#6a6a6a" text-anchor="middle">Jan '21</text>
<text x="331.0" y="437.7" font-size="10" fill="#6a6a6a" text-anchor="middle">Mai '21</text>
<text x="414.0" y="437.7" font-size="10" fill="#6a6a6a" text-anchor="middle">Sep '21</text>
<text x="497.0" y="437.7" font-size="10" fill="#6a6a6a" text-anchor="middle">Jan '22</text>
<text x="577.0" y="437.7" font-size="10" fill="#6a6a6a" text-anchor="middle">Mai '22</text>
<text x="659.0" y="437.7" font-size="10" fill="#6a6a6a" text-anchor="middle">Sep '22</text>
<text x="755.0" y="341.7" font-size="10" fill="#666666" text-anchor="start">0</text>
<text x="755.0" y="282.0" font-size="10" fill="#666666" text-anchor="start">0.2</text>
<text x="755.0" y="221.0" font-size="10" fill="#666666" text-anchor="start">0.4</text>
<text x="755.0" y="161.0" font-size="10" fill="#666666" text-anchor="start">0.6</text>
<text x="755.0" y="100.0" font-size="10" fill="#666666" text-anchor="start">0.8</text>
<text x="755.0" y="416.6" font-size="10" fill="#666666" text-anchor="start">0</text>
</svg>
</body></html>
